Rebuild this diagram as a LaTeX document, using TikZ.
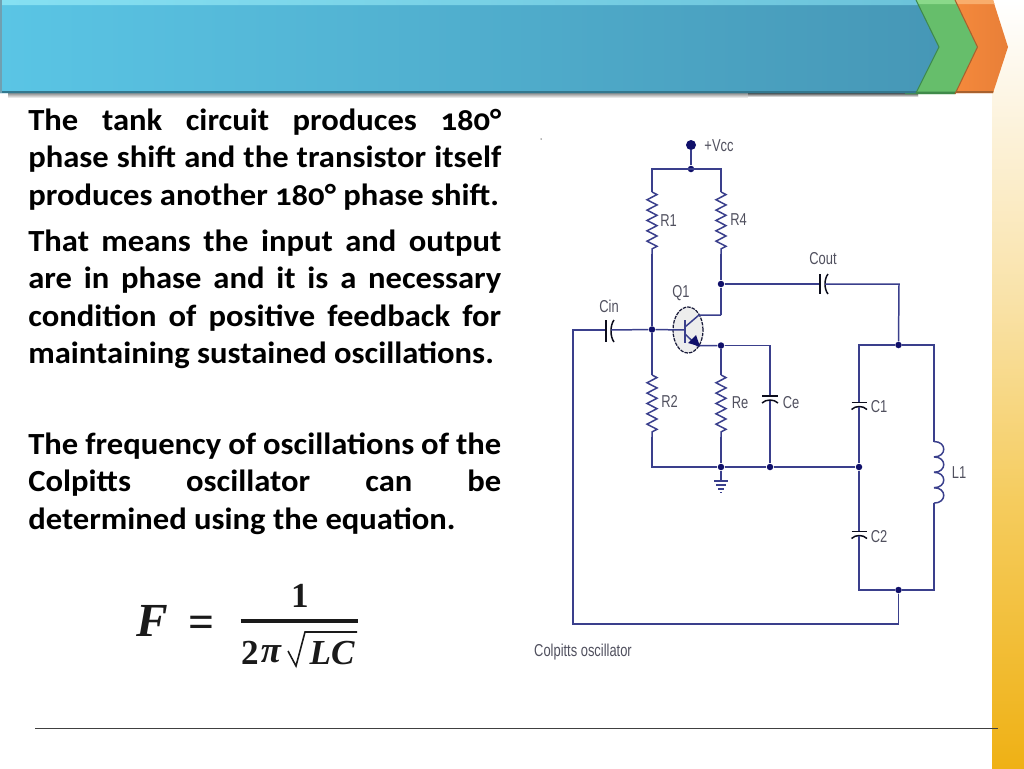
\documentclass[tikz,border=0pt]{standalone}
\usepackage{fontspec}
\setmainfont[Numbers=OldStyle,FakeStretch=1.06]{Carlito}
\newfontfamily\labfont[FakeStretch=0.75]{Liberation Sans}
\newfontfamily\formfont{Liberation Serif}
\usetikzlibrary{decorations.pathmorphing,shapes.geometric}
\definecolor{wirecol}{HTML}{3A3F8C}
\definecolor{dotcol}{HTML}{10106A}
\definecolor{labcol}{HTML}{50505E}
\definecolor{formcol}{HTML}{1A1A1A}
\definecolor{blueL}{HTML}{5AC5E5}
\definecolor{blueR}{HTML}{4697B6}
\definecolor{blueTopL}{HTML}{85E0F2}
\definecolor{blueTopR}{HTML}{6CC3DA}
\definecolor{blueEdge}{HTML}{33788F}
\definecolor{greenArr}{HTML}{66BE6B}
\definecolor{greenTop}{HTML}{8AD98A}
\definecolor{greenEdge}{HTML}{3F8A4A}
\definecolor{orangeL}{HTML}{F68A3C}
\definecolor{orangeR}{HTML}{E87F38}
\definecolor{orangeTop}{HTML}{F9AD6C}
\definecolor{orangeEdge}{HTML}{A8612E}
\definecolor{bandA}{HTML}{FFFFFF}
\definecolor{bandB}{HTML}{FDF6E6}
\definecolor{bandC}{HTML}{F9E2A8}
\definecolor{bandD}{HTML}{F5CC5E}
\definecolor{bandE}{HTML}{EFB115}
\tikzset{
  wire/.style={draw=wirecol,line width=0.85pt},
  res/.style={wire,decorate,decoration={zigzag,segment length=0.207cm,amplitude=0.1cm}},
  plate/.style={draw=black!80!wirecol,line width=0.85pt},
  dot/.style={circle,fill=dotcol,inner sep=0pt,minimum size=0.13cm},
  lab/.style={text=labcol,inner sep=0pt,font=\labfont\fontsize{9.8}{11}\selectfont},
  para/.style={anchor=north west,inner sep=0pt,text width=9.46cm,align=justify,font=\bfseries\fontsize{17.5}{21.35}\selectfont},
  form/.style={text=formcol,inner sep=0pt,font=\formfont\fontsize{22}{24}\selectfont}
}
\begin{document}
\begin{tikzpicture}[x=0.02cm,y=-0.02cm]
\useasboundingbox(0,0)rectangle(1024,768);
%side band
\shade[top color=bandA,bottom color=bandB](992,0)rectangle(1024,90);
\shade[top color=bandB,bottom color=bandC](992,90)rectangle(1024,300);
\shade[top color=bandC,bottom color=bandD](992,300)rectangle(1024,500);
\shade[top color=bandD,bottom color=bandE](992,500)rectangle(1024,768);
%header shadow
\shade[top color=black!45,bottom color=white](8,93)rectangle(918,98);
\shade[top color=black!70,bottom color=white](748,93)rectangle(918,97);
%header arrows
\shade[left color=orangeL,right color=orangeR](950,0)--(993,0)--(1008,47)--(993,93)--(950,93)--cycle;
\fill[orangeTop](950,0)--(993,0)--(994.5,4)--(950,4)--cycle;
\fill[orangeEdge](950,91)--(993.5,91)--(993,93)--(950,93)--cycle;
\fill[greenArr](905,0)--(955,0)--(977.5,47)--(955,94)--(905,94)--cycle;
\fill[greenTop](905,0)--(955,0)--(957,4)--(905,4)--cycle;
\fill[greenEdge](905,91.5)--(956,91.5)--(955,94)--(905,94)--cycle;
\draw[orangeEdge,line width=0.6pt](955,0)--(977.5,47)--(955,94);
\shade[left color=blueL,right color=blueR](0,0)--(916,0)--(939,47)--(916,93)--(0,93)--cycle;
\shade[left color=blueTopL,right color=blueTopR](0,0)--(916,0)--(918.5,5)--(0,5)--cycle;
\fill[blueEdge](0,91)--(917,91)--(916,93)--(0,93)--cycle;
\fill[blueEdge!70](0,0)rectangle(2,93);
\draw[greenEdge,line width=0.6pt](916,0)--(939,47)--(916,93);
%text
\node[para](para1) at (28,108.5) {The tank circuit produces 180°\linebreak phase shift and the transistor itself\linebreak produces another 180° phase shift.};
\node[para](para2) at (28,229.5) {That means the input and output\linebreak are in phase and it is a necessary\linebreak condition of positive feedback for\linebreak maintaining sustained oscillations.};
\node[para](para3) at (28,432.5) {The frequency of oscillations of the\linebreak Colpitts oscillator can be\linebreak determined using the equation.};
%formula
\node[form,font=\formfont\itshape\bfseries\fontsize{27}{32}\selectfont](formF) at (152,621) {F};
\node[form,font=\formfont\bfseries\fontsize{26}{30}\selectfont](formEq) at (202,627) {=};
\node[form,font=\formfont\bfseries\fontsize{20}{24}\selectfont](formOne) at (300,596) {1};
\node[form,font=\formfont\bfseries\fontsize{20}{24}\selectfont](formTwo) at (250,653) {2};
\node[form,font=\formfont\itshape\bfseries\fontsize{21}{24}\selectfont](formPi) at (271,654) {π};
\node[form,font=\formfont\itshape\bfseries\fontsize{20}{24}\selectfont](formLC) at (332,653) {LC};
\coordinate(barL) at (240.5,621);
\coordinate(barR) at (358,621);
\draw[formcol,line width=2pt](barL)--(barR);
\coordinate(radA) at (288,651);
\coordinate(radB) at (296,666);
\coordinate(radC) at (305,632);
\coordinate(radD) at (357,632);
\draw[formcol,line width=0.9pt](radA)--(radB)--(radC)--(radD);
%footer
\coordinate(footL) at (35,728.5);
\coordinate(footR) at (998,728.5);
\draw[black!75,line width=0.7pt](footL)--(footR);
%circuit points
\coordinate(vccTop) at (652,169);
\coordinate(r4Top) at (721,169);
\node[dot](nTop) at (691,169) {};
\node[circle,fill=dotcol,inner sep=0pt,minimum width=0.14cm,minimum height=0.2cm](nVcc) at (691,145) {};
\coordinate(r1a) at (652,192);
\coordinate(r1b) at (652,254);
\coordinate(r4a) at (721,192);
\coordinate(r4b) at (721,254);
\node[dot](nBase) at (652,329.5) {};
\node[dot](nColl) at (721,284) {};
\coordinate(collEnd) at (721,315);
\node[dot](nEmit) at (721,345.5) {};
\coordinate(ceTop) at (770,345.5);
\coordinate(r2a) at (652,375);
\coordinate(r2b) at (652,437);
\coordinate(reA) at (721,375);
\coordinate(reB) at (721,437);
\coordinate(r2Bot) at (652,467);
\node[dot](nRe) at (721,467) {};
\node[dot](nCe) at (770,467) {};
\node[dot](nMid) at (859,467) {};
\node[dot](nTankT) at (898.5,345) {};
\node[dot](nTankB) at (898.5,590) {};
\coordinate(c1Top) at (859,345);
\coordinate(lTop) at (934,345);
\coordinate(lA) at (934,441.5);
\coordinate(lB) at (934,503);
\coordinate(c2Bot) at (859,590);
\coordinate(lBot) at (934,590);
\coordinate(fbR) at (898.5,624);
\coordinate(fbL) at (573,624);
\coordinate(inL) at (573,330);
\coordinate(collT) at (899,284);
\coordinate(gnd) at (721,481);
%wires
\draw[wire](nVcc)--(nTop);
\draw[wire](r1a)--(vccTop)--(r4Top)--(r4a);
\draw[res](r1a)--(r1b);
\draw[res](r4a)--(r4b);
\draw[wire](r1b)--(nBase)--(r2a);
\draw[res](r2a)--(r2b);
\draw[wire](r2b)--(r2Bot)--(nRe)--(nCe)--(nMid);
\draw[wire](r4b)--(nColl)--(collEnd);
\draw[wire](nEmit)--(reA);
\draw[res](reA)--(reB);
\draw[wire](reB)--(nRe)--(gnd);
\draw[wire](nEmit)--(ceTop)--(770,396);
\draw[wire](770,400)--(nCe);
%Ce C1 C2
\draw[plate](762,396)--++(16,0);
\draw[plate](762,403) .. controls (766,399) and (774,399) .. (778,403);
\draw[wire](nTankT)--(c1Top)--(859,402.5);
\draw[plate](851.5,402.5)--++(15.5,0);
\draw[plate](851.5,409.5) .. controls (855.5,405.5) and (863,405.5) .. (867,409.5);
\draw[wire](859,406.5)--(nMid)--(859,531.5);
\draw[plate](851.5,531.5)--++(15.5,0);
\draw[plate](851.5,538.5) .. controls (855.5,534.5) and (863,534.5) .. (867,538.5);
\draw[wire](859,535.5)--(c2Bot)--(nTankB);
%L1
\draw[wire](nTankT)--(lTop)--(lA);
\foreach \i in {0,1,2,3}{
  \draw[wire](934,441.5+\i*15.4) .. controls (947,441.5+\i*15.4) and (947,456.9+\i*15.4) .. (934,456.9+\i*15.4);
}
\draw[wire](lB)--(lBot)--(nTankB);
%output and feedback
\draw[wire](nColl)--(820,284);
\draw[plate](820,274)--++(0,20);
\draw[plate](828,274) .. controls (824,279) and (824,289) .. (828,294);
\draw[wire](825,284)--(collT)--(nTankT);
\draw[wire](nTankB)--(fbR)--(fbL)--(inL)--(606,330);
\draw[plate](606,320)--++(0,22);
\draw[plate](614,320) .. controls (610,325) and (610,337) .. (614,342);
\draw[wire](611,330)--(nBase);
%ground
\draw[wire](714,481)--++(14,0);
\draw[wire](716,485)--++(10,0);
\draw[wire](718,489)--++(6,0);
\draw[wire](720,492.5)--++(2,0);
%transistor
\node[draw=black!60!wirecol,line width=0.7pt,dash pattern=on 2pt off 0.6pt,fill=black!7,ellipse,inner sep=0pt,minimum width=0.6cm,minimum height=0.92cm](q1) at (688,330) {};
\coordinate(bar) at (685,330);
\draw[wire](nBase)--(bar);
\draw[wire,line width=1.1pt](685,320)--(685,343);
\draw[wire](685,327)--(699,315)--(collEnd);
\draw[wire](685,334)--(697,345.5)--(nEmit);
\fill[dotcol](700,346.5)--(688,343)--(696,335)--cycle;
%labels
\node[lab](lVcc) at (719,146) {+Vcc};
\node[lab](lR1) at (668.5,221) {R1};
\node[lab](lR4) at (738.5,220) {R4};
\node[lab](lR2) at (669.5,401.5) {R2};
\node[lab](lRe) at (740,402.5) {Re};
\node[lab](lCe) at (791,402.5) {Ce};
\node[lab](lC1) at (879,406.5) {C1};
\node[lab](lC2) at (879,537) {C2};
\node[lab](lL1) at (959,472.5) {L1};
\node[lab](lQ1) at (681,293) {Q1};
\node[lab](lCin) at (609,306.5) {Cin};
\node[lab](lCout) at (823,259) {Cout};
\node[lab](lCap) at (583,652.5) {Colpitts oscillator};
\node[circle,fill=black!60,inner sep=0pt,minimum size=0.03cm](speck) at (541,139) {};
\end{tikzpicture}
\end{document}
